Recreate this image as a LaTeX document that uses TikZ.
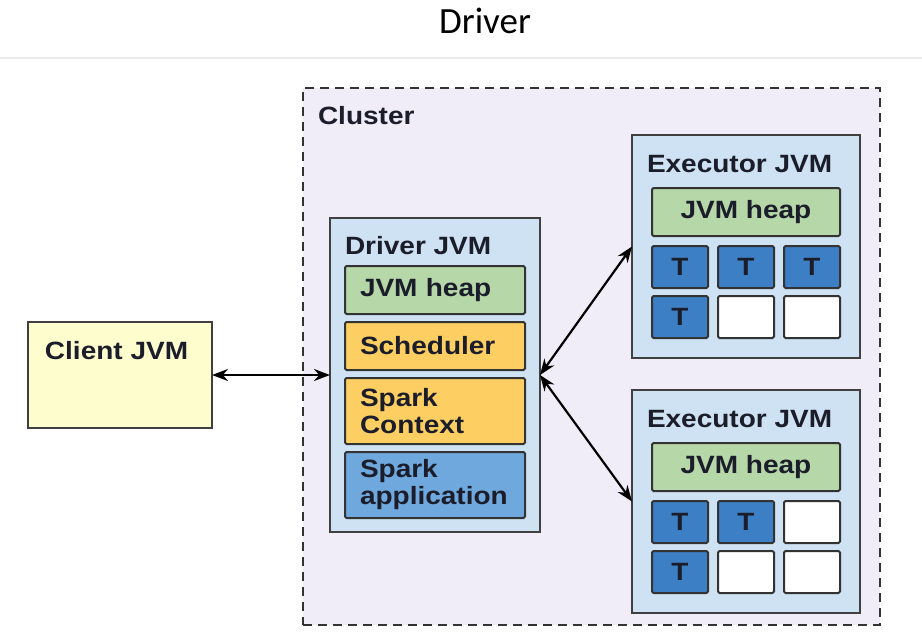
\documentclass[tikz,border=0pt]{standalone}
\usepackage{fontspec}
\setmainfont{Liberation Sans}[FakeStretch=1.12]
\newfontfamily\titlefont{Carlito}
\usetikzlibrary{positioning,arrows.meta}

\definecolor{clusterbg}{HTML}{F1EDF8}
\definecolor{jvmblue}{HTML}{CFE2F3}
\definecolor{clientyellow}{HTML}{FDFDCE}
\definecolor{heapgreen}{HTML}{B6D7A8}
\definecolor{schedorange}{HTML}{FDCF63}
\definecolor{appblue}{HTML}{6FA8DC}
\definecolor{taskblue}{HTML}{3D7FC4}
\definecolor{ink}{HTML}{1B1D2B}

\begin{document}
\begin{tikzpicture}[x=1pt,y=-1pt,inner sep=0pt,outer sep=0pt,
    font=\fontsize{25}{27}\selectfont\bfseries,text=ink,
    cluster/.style={draw=black!80,line width=2.8pt,dash pattern=on 9pt off 6pt,
      fill=clusterbg,anchor=north west},
    jvm/.style={draw=black!75,line width=2pt,fill=jvmblue,anchor=north west},
    part/.style={draw=black!80,line width=2pt,rounded corners=1.5pt,
      minimum height=48pt},
    dpart/.style={part,text width=150pt,inner xsep=15pt,align=left},
    epart/.style={part,minimum width=188pt,align=center},
    tcell/.style={part,fill=taskblue,minimum width=56pt,minimum height=42pt,
      font=\fontsize{25}{25}\selectfont\bfseries},
    ecell/.style={tcell,fill=white},
    conn/.style={<->,line width=2.2pt,>={Stealth[length=16pt,width=12pt]}}]
    \useasboundingbox (0,0) rectangle (922,641);

    \node[font=\titlefont\mdseries\fontsize{37}{40}\selectfont,text=black]
      (title) at (485,21) {Driver};
    \draw[black!8,line width=1.5pt] (0,58) -- (922,58);

    \node[cluster,minimum width=577pt,minimum height=537pt] (cluster) at (303,88) {};
    \node (cluster_l) [below right=18pt and 15pt of cluster.north west] {Cluster};

    % client side
    \node[jvm,fill=clientyellow,minimum width=184pt,minimum height=106pt]
      (client) at (28,322) {};
    \node (client_l) [below right=19pt and 17pt of client.north west] {Client JVM};

    % driver
    \node[jvm,minimum width=210pt,minimum height=314pt] (driver) at (330,218) {};
    \node (driver_l) [below right=18pt and 15pt of driver.north west] {Driver JVM};
    \node[dpart,fill=heapgreen] (d_heap) [below right=48pt and 15pt of driver.north west] {JVM heap};
    \node[dpart,fill=schedorange] (d_sched) [below=8pt of d_heap] {Scheduler};
    \node[dpart,fill=schedorange,minimum height=66pt] (d_ctx) [below=8pt of d_sched] {Spark\\Context};
    \node[dpart,fill=appblue,minimum height=66pt] (d_app) [below=8pt of d_ctx] {Spark\\application};

    % first executor
    \node[jvm,minimum width=228pt,minimum height=223pt] (e1) at (632,135) {};
    \node (e1_l) [below right=20pt and 15pt of e1.north west] {Executor JVM};
    \node[epart,fill=heapgreen] (e1_heap) [below right=53pt and 20pt of e1.north west] {JVM heap};
    \node[tcell] (e1_t1) [below right=10pt and 0pt of e1_heap.south west] {T};
    \node[tcell] (e1_t2) [right=10pt of e1_t1] {T};
    \node[tcell] (e1_t3) [right=10pt of e1_t2] {T};
    \node[tcell] (e1_t4) [below=8pt of e1_t1] {T};
    \node[ecell] (e1_t5) [right=10pt of e1_t4] {};
    \node[ecell] (e1_t6) [right=10pt of e1_t5] {};

    % second executor
    \node[jvm,minimum width=228pt,minimum height=223pt] (e2) at (632,390) {};
    \node (e2_l) [below right=20pt and 15pt of e2.north west] {Executor JVM};
    \node[epart,fill=heapgreen] (e2_heap) [below right=53pt and 20pt of e2.north west] {JVM heap};
    \node[tcell] (e2_t1) [below right=10pt and 0pt of e2_heap.south west] {T};
    \node[tcell] (e2_t2) [right=10pt of e2_t1] {T};
    \node[ecell] (e2_t3) [right=10pt of e2_t2] {};
    \node[tcell] (e2_t4) [below=8pt of e2_t1] {T};
    \node[ecell] (e2_t5) [right=10pt of e2_t4] {};
    \node[ecell] (e2_t6) [right=10pt of e2_t5] {};

    \path[conn]
    (client.east) edge (driver.west)
    (driver.east) edge (e1.west)
    (driver.east) edge (e2.west);
  \end{tikzpicture}
\end{document}
